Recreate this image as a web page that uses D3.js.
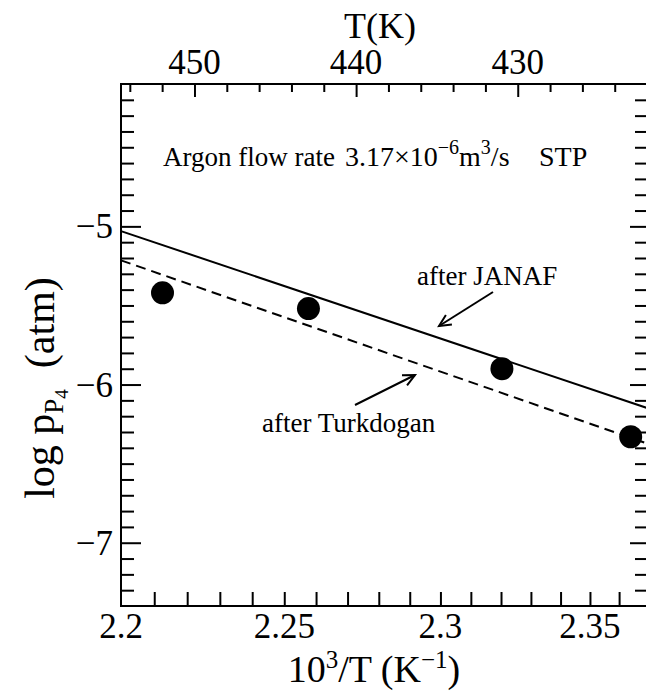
<!DOCTYPE html>
<html>
<head>
<meta charset="utf-8">
<script src="https://cdn.jsdelivr.net/npm/d3@7"></script>
<style>
  body { margin: 0; background: #fff; }
  text { font-family: "Liberation Serif", "DejaVu Serif", serif; fill: #000; white-space: pre; }
</style>
</head>
<body>
<script>
// measured points, x is 10^3/T, y is log pP4
var invT = [2.2125, 2.2576, 2.3203, 2.364];
var logP = [-5.42, -5.52, -5.90, -6.33];

// calculated lines (two ends each)
var janafX = [2.2, 2.37];
var janafY = [-5.03, -6.15];
var turkX = [2.2, 2.37];
var turkY = [-5.215, -6.375];

var bottomLabels = [2.2, 2.25, 2.3, 2.35];
var topLabels = [450, 440, 430];
var leftLabels = [-5, -6, -7];

var width = 646, height = 692;
var padL = 121, padR = 648, padT = 84, padB = 606;

var svg = d3.select("body").append("svg")
    .attr("width", width)
    .attr("height", height);

// the plot is linear in T, the bottom axis carries 10^3/T
var xT = d3.scaleLinear().domain([1000 / 2.2, 1000 / 2.37]).range([padL, padR]);
var y = d3.scaleLinear().domain([-7.4, -4.1]).range([padB, padT]);
function xInv(v) { return xT(1000 / v); }

// frame
svg.append("rect")
    .attr("x", padL).attr("y", padT)
    .attr("width", padR - padL).attr("height", padB - padT)
    .attr("fill", "none").attr("stroke", "#000").attr("stroke-width", 2);

function fmtMinus(v) { return String(v).replace("-", "\u2212"); }

// bottom axis: ticks every 0.01 in 10^3/T
var bTicks = d3.range(221, 237).map(function(d) { return 1000 / (d / 100); });
var bAxis = d3.axisBottom(xT)
    .tickValues(bTicks)
    .tickSizeInner(-14).tickSizeOuter(0)
    .tickFormat("");
var gB = svg.append("g").attr("transform", "translate(0," + padB + ")").call(bAxis);
gB.select(".domain").remove();
gB.selectAll("line").attr("stroke-width", 2);

svg.selectAll(".blab").data(bottomLabels).enter().append("text")
    .attr("class", "blab")
    .attr("x", function(d) { return xInv(d); })
    .attr("y", 638)
    .attr("text-anchor", "middle")
    .attr("font-size", 35)
    .text(function(d) { return d; });

// top axis: T in K
var tTicks = d3.range(454, 421, -2);
var tAxis = d3.axisTop(xT)
    .tickValues(tTicks)
    .tickSizeOuter(0)
    .tickFormat("");
var gT = svg.append("g").attr("transform", "translate(0," + padT + ")").call(tAxis);
gT.select(".domain").remove();
gT.selectAll(".tick line")
    .attr("y2", function(d) { return d % 10 === 0 ? 13 : 8; })
    .attr("stroke-width", 2);

svg.selectAll(".tlab").data(topLabels).enter().append("text")
    .attr("class", "tlab")
    .attr("x", function(d) { return xT(d); })
    .attr("y", 74)
    .attr("text-anchor", "middle")
    .attr("font-size", 35)
    .text(function(d) { return d; });

// left and right axes, minor every 0.1
var yTicks = d3.range(-73, -41).map(function(d) { return d / 10; });
function isMajor(d) { return Math.abs(d - Math.round(d)) < 1e-6; }

var gL = svg.append("g").attr("transform", "translate(" + padL + ",0)")
    .call(d3.axisLeft(y).tickValues(yTicks).tickSizeOuter(0).tickFormat(""));
gL.select(".domain").remove();
gL.selectAll(".tick line")
    .attr("x2", function(d) { return isMajor(d) ? 20 : 13; })
    .attr("stroke-width", 2);

var gR = svg.append("g").attr("transform", "translate(" + padR + ",0)")
    .call(d3.axisRight(y).tickValues(yTicks).tickSizeOuter(0).tickFormat(""));
gR.select(".domain").remove();
gR.selectAll(".tick line")
    .attr("x2", function(d) { return isMajor(d) ? -18 : -13; })
    .attr("stroke-width", 2);

svg.selectAll(".ylab").data(leftLabels).enter().append("text")
    .attr("class", "ylab")
    .attr("x", 113)
    .attr("y", function(d) { return y(d) + 12; })
    .attr("text-anchor", "end")
    .attr("font-size", 35)
    .text(function(d) { return fmtMinus(d); });

// lines
var line = d3.line()
    .x(function(d) { return xInv(d[0]); })
    .y(function(d) { return y(d[1]); });

svg.append("path")
    .datum(d3.zip(janafX, janafY))
    .attr("d", line)
    .attr("fill", "none").attr("stroke", "#000").attr("stroke-width", 2);

svg.append("path")
    .datum(d3.zip(turkX, turkY))
    .attr("d", line)
    .attr("fill", "none").attr("stroke", "#000").attr("stroke-width", 2)
    .attr("stroke-dasharray", "10,6");

// points
svg.selectAll(".pt").data(d3.zip(invT, logP)).enter().append("circle")
    .attr("class", "pt")
    .attr("cx", function(d) { return xInv(d[0]); })
    .attr("cy", function(d) { return y(d[1]); })
    .attr("r", 11.5)
    .attr("fill", "#000");

// arrows (open heads)
function arrow(x1, y1, x2, y2) {
    var a = Math.atan2(y2 - y1, x2 - x1), L = 13, w = 0.45;
    svg.append("line").attr("x1", x1).attr("y1", y1).attr("x2", x2).attr("y2", y2)
        .attr("stroke", "#000").attr("stroke-width", 2);
    svg.append("path")
        .attr("d", "M" + (x2 - L * Math.cos(a - w)) + "," + (y2 - L * Math.sin(a - w)) +
                   "L" + x2 + "," + y2 +
                   "L" + (x2 - L * Math.cos(a + w)) + "," + (y2 - L * Math.sin(a + w)))
        .attr("fill", "none").attr("stroke", "#000").attr("stroke-width", 2);
}
arrow(493, 292, 439, 326);
arrow(355, 405, 415, 375);

svg.append("text").attr("x", 417).attr("y", 285).attr("font-size", 27).text("after JANAF");
svg.append("text").attr("x", 262).attr("y", 432).attr("font-size", 27).text("after Turkdogan");

// condition text
svg.append("text").attr("x", 163).attr("y", 166).attr("font-size", 27).text("Argon flow rate");
var cond = svg.append("text").attr("x", 345).attr("y", 166).attr("font-size", 28);
cond.append("tspan").text("3.17\u00d710");
cond.append("tspan").attr("dy", -12).attr("font-size", 20).text("\u22126");
cond.append("tspan").attr("dy", 12).text("m");
cond.append("tspan").attr("dy", -12).attr("font-size", 20).text("3");
cond.append("tspan").attr("dy", 12).text("/s");
svg.append("text").attr("x", 539).attr("y", 166).attr("font-size", 28).text("STP");

// axis titles
svg.append("text").attr("x", 380).attr("y", 38).attr("text-anchor", "middle")
    .attr("font-size", 36).text("T(K)");

var xt = svg.append("text").attr("x", 374).attr("y", 682).attr("text-anchor", "middle")
    .attr("font-size", 38);
xt.append("tspan").text("10");
xt.append("tspan").attr("dy", -14).attr("font-size", 25).text("3");
xt.append("tspan").attr("dy", 14).text("/T (K");
xt.append("tspan").attr("dy", -14).attr("font-size", 25).text("\u22121");
xt.append("tspan").attr("dy", 14).text(")");

var yt = svg.append("text")
    .attr("transform", "translate(54,388) rotate(-90)")
    .attr("text-anchor", "middle")
    .attr("font-size", 42);
yt.append("tspan").text("log p");
yt.append("tspan").attr("dy", 9).attr("font-size", 27).text("P");
yt.append("tspan").attr("dy", 5).attr("font-size", 19).text("4");
yt.append("tspan").attr("dy", -14).text("  (atm)");
</script>
</body>
</html>
